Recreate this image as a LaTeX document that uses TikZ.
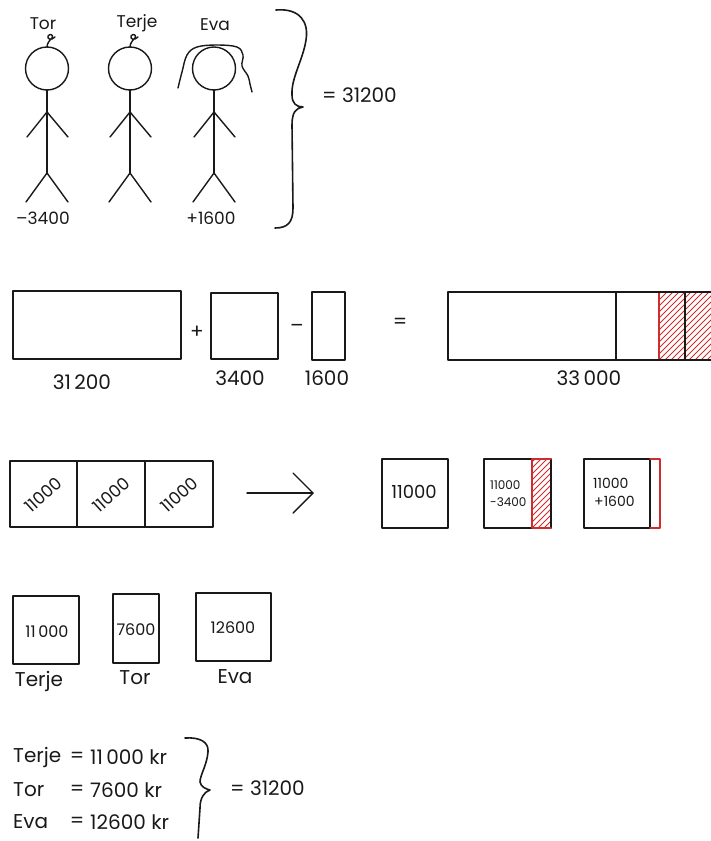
\documentclass[tikz,border=0pt]{standalone}
\usepackage{fontspec}
\setmainfont{Poppins}
\definecolor{hatchred}{RGB}{205,45,45}
\definecolor{ink}{RGB}{25,25,25}
% red diagonal hatching inside a rectangle (x1,y1) -- (x2,y2)
\newcommand{\hatchfill}[4]{%
  \begin{scope}
    \clip (#1,#2) rectangle (#3,#4);
    \foreach \k in {-90,-84,...,90}
      \draw[hatch] (#1+\k,#4) -- ++(90,-90);
  \end{scope}}
\begin{document}
\begin{tikzpicture}[x=1pt,y=-1pt,
  line join=round, line cap=round,
  pen/.style={draw=ink, line width=1.6pt},
  thin pen/.style={draw=ink, line width=1.4pt},
  hatch/.style={draw=hatchred, line width=0.9pt},
  redline/.style={draw=hatchred, line width=1.4pt},
  txt/.style={inner sep=0pt, text=ink, font=\fontsize{#1}{#1}\selectfont},
  txt/.default=20]
\useasboundingbox (0,0) rectangle (710,841);

% ---------- three stick figures ----------
\foreach \cx/\nm in {47/tor,130/terje,214/eva}{
  \draw[thin pen] (\cx,68.5) circle (21.5);
  \draw[thin pen] (\cx,90) -- (\cx,173);
  \draw[thin pen] (\cx-20,137) -- (\cx,112) -- (\cx+21,137);
  \draw[thin pen] (\cx-21,202) -- (\cx,173) -- (\cx+21,202);
}
% curls on the heads
\draw[thin pen] (47,47) .. controls (47,43) and (50,40) .. (52,38)
  .. controls (54,35) and (50,33) .. (48,36) .. controls (47,39) and (51,41) .. (55,37);
\draw[thin pen] (130,47) .. controls (130,43) and (133,40) .. (135,38)
  .. controls (137,35) and (133,33) .. (131,36) .. controls (130,39) and (134,41) .. (138,37);
% wavy hair
\draw[thin pen] plot[smooth, tension=0.6] coordinates {
  (178,88) (182,72) (187,55) (197,47) (217,45) (237,47) (243,55)
  (242,66) (248,76) (250,84) (252,92)};

\node[txt=17] (torname) at (43,24) {Tor};
\node[txt=17] (terjename) at (137,23) {Terje};
\node[txt=17] (evaname) at (215,25) {Eva};
\node[txt=17] (tordelta) at (43,218) {–3400};
\node[txt=17] (evadelta) at (211,218) {+1600};

% brace joining the three figures
\draw[pen] (276,10) .. controls (300,8) and (309,22) .. (306,40)
  .. controls (303,60) and (291,78) .. (292,95)
  .. controls (292,103) and (296,107) .. (303,107)
  .. controls (296,108) and (292,112) .. (292,125)
  -- (293,208) .. controls (293,222) and (288,228) .. (275,228);
\node[txt=20, anchor=west] (topsum) at (322,95) {= 31200};

% ---------- sum of the rectangles ----------
\draw[pen] (13,291) rectangle (181,359);
\draw[pen] (211,293) rectangle (278,359);
\draw[pen] (312,292) rectangle (345,360);
\node[txt=20] (plus) at (197,332) {+};
\node[txt=20] (minus) at (297,328) {–};
\node[txt=20] (equals) at (400,323) {=};
\node[txt=20] (l31200) at (82,382) {31\,200};
\node[txt=20] (l3400) at (240,378) {3400};
\node[txt=20] (l1600) at (327,378) {1600};

% the 33 000 bar
\hatchfill{659}{292}{712}{360}
\draw[redline] (659,292) -- (659,360);
\draw[pen] (712,292) -- (448,292) -- (448,360) -- (712,360);
\draw[pen] (616,292) -- (616,360);
\draw[pen] (685,292) -- (685,360);
\node[txt=20] (l33000) at (589,378) {33\,000};

% ---------- splitting into three ----------
\draw[pen] (10,461) rectangle (213,527);
\draw[pen] (77,461) -- (77,527);
\draw[pen] (145,461) -- (145,527);
\node[txt=17, rotate=42] (cellA) at (43.5,495) {11000};
\node[txt=17, rotate=42] (cellB) at (111,495) {11000};
\node[txt=17, rotate=42] (cellC) at (179,495) {11000};

\coordinate (arrS) at (247,493);
\coordinate (arrE) at (313,493);
\draw[thin pen] (arrS) -- (arrE);
\draw[thin pen] (arrE) ++(-20,-20) -- (arrE) -- ++(-20,20);

\draw[pen] (382,459) rectangle (448,528);
\node[txt=18] (shareA) at (414,492) {11000};

\hatchfill{532}{459}{551}{528}
\draw[pen] (484,459) rectangle (551,528);
\draw[redline] (551,459) -- (532,459) -- (532,528) -- (551,528);
\node[txt=12, anchor=west] (shareB1) at (490,485) {11000};
\node[txt=12, anchor=west] (shareB2) at (490,502) {-3400};

\draw[pen] (584,459) rectangle (650,528);
\draw[redline] (650,459) -- (660,459) -- (660,528) -- (650,528);
\node[txt=14, anchor=west] (shareC1) at (593,483) {11000};
\node[txt=14, anchor=west] (shareC2) at (594,501) {+1600};

% ---------- resulting shares ----------
\draw[pen] (13,596) rectangle (79,664);
\node[txt=16] (terjeval) at (47,632) {11\,000};
\node[txt=20] (terjelbl) at (39,681) {Terje};
\draw[pen] (113,594) rectangle (159,663);
\node[txt=16] (torval) at (136,630) {7600};
\node[txt=20] (torlbl) at (135,678) {Tor};
\draw[pen] (196,593) rectangle (271,661);
\node[txt=16] (evaval) at (233,628) {12600};
\node[txt=20] (evalbl) at (235,677) {Eva};

% ---------- final amounts ----------
\foreach \y/\who/\amt/\nm in {757/Terje/11\,000 kr/a,790/Tor/7600 kr/b,822/Eva/12600 kr/c}{
  \node[txt=20, anchor=west] (who\nm) at (13,\y) {\who};
  \node[txt=20] (eq\nm) at (77,\y) {=};
  \node[txt=20, anchor=west] (amt\nm) at (90,\y) {\amt};
}
\draw[pen] (185,738) .. controls (200,737) and (209,742) .. (208,752)
  .. controls (207,765) and (200,775) .. (200,782)
  .. controls (201,787) and (206,789) .. (210,790)
  .. controls (204,792) and (200,798) .. (200,808)
  -- (198,838);
\node[txt=20, anchor=west] (finalsum) at (230,788) {= 31200};
\end{tikzpicture}
\end{document}
